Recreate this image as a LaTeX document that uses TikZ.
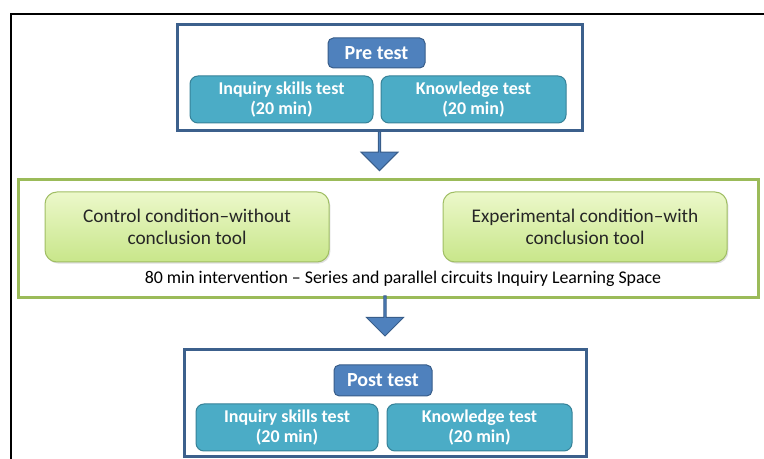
\documentclass[tikz,border=0pt]{standalone}
\usepackage{fontspec}
\setmainfont{Carlito}
\usetikzlibrary{shapes.arrows,shadows}

\definecolor{frameblue}{RGB}{60,96,140}
\definecolor{titlefill}{RGB}{79,129,189}
\definecolor{titleedge}{RGB}{56,93,138}
\definecolor{testfill}{RGB}{75,172,198}
\definecolor{testedge}{RGB}{55,130,152}
\definecolor{condgreen}{RGB}{155,187,89}
\definecolor{condtop}{RGB}{236,248,202}
\definecolor{condbottom}{RGB}{200,230,138}
\definecolor{condedge}{RGB}{160,190,100}

\tikzset{every picture/.style={line width=0.75pt}}
\tikzset{
  testframe/.style={draw=frameblue, line width=2.25pt, fill=white, inner sep=0pt},
  titlebox/.style={draw=titleedge, fill=titlefill, rounded corners=4pt, text=white, inner sep=0pt,
    font=\fontsize{15}{17}\selectfont\bfseries},
  testbox/.style={draw=testedge, fill=testfill, rounded corners=6pt, text=white, inner sep=0pt, align=center,
    font=\fontsize{13.5}{15}\selectfont\bfseries},
  condframe/.style={draw=condgreen, line width=2.25pt, fill=white, inner sep=0pt},
  condbox/.style={draw=condedge, top color=condtop, bottom color=condbottom, rounded corners=9pt,
    inner sep=0pt, align=center, text=black!85, font=\fontsize{14.5}{16.5}\selectfont,
    drop shadow={shadow xshift=1pt, shadow yshift=-1.2pt, opacity=0.25}},
  fatarrow/.style={single arrow, draw=titleedge, fill=titlefill, rotate=-90, anchor=tail, inner sep=0pt,
    minimum width=27.75pt, single arrow head extend=6.4pt, minimum height=29.25pt}
}

\begin{document}
\begin{tikzpicture}[x=0.75pt,y=0.75pt,yscale=-1,xscale=1]
\useasboundingbox (0,0) rectangle (764,459);

% outer frame
\draw [line width=1.5pt] (11,462) -- (11,14) -- (767,14) ;

% Pre test
\node [testframe, minimum width=303.75pt, minimum height=79.5pt] (preframe) at (379.5,78) {};
\node [titlebox, minimum width=72.75pt, minimum height=22.5pt] (pretitle) at (376.5,53) {Pre test};
\node [testbox, minimum width=137.25pt, minimum height=35.25pt] (preinq) at (281.5,99.5) {Inquiry skills test\\(20 min)};
\node [testbox, minimum width=138.75pt, minimum height=35.25pt] (preknow) at (473.5,99.5) {Knowledge test\\(20 min)};

% Intervention
\node [condframe, minimum width=555pt, minimum height=88.5pt] (midframe) at (388,239) {};
\node [condbox, minimum width=213pt, minimum height=52.5pt] (control) at (187,227) {Control condition--without\\conclusion tool};
\node [condbox, minimum width=213pt, minimum height=52.5pt] (exper) at (585,227) {Experimental condition--with\\conclusion tool};
\node [font=\fontsize{13.4}{15}\selectfont, inner sep=0pt] (interv) at (403,279) {80 min intervention -- Series and parallel circuits Inquiry Learning Space};

% Post test
\node [testframe, minimum width=301.5pt, minimum height=80.25pt] (postframe) at (385,403.5) {};
\node [titlebox, minimum width=73.5pt, minimum height=23.25pt] (posttitle) at (383,380.5) {Post test};
\node [testbox, minimum width=136.5pt, minimum height=35.25pt] (postinq) at (287,427.5) {Inquiry skills test\\(20 min)};
\node [testbox, minimum width=138.75pt, minimum height=35.25pt] (postknow) at (479.5,427.5) {Knowledge test\\(20 min)};

% Connection
\node [fatarrow] (arrowA) at ([yshift=-1pt]preframe.south) {};
% Connection
\node [fatarrow, minimum height=30pt] (arrowB) at ([yshift=-3pt]midframe.south -| postframe.north) {};

\end{tikzpicture}
\end{document}
